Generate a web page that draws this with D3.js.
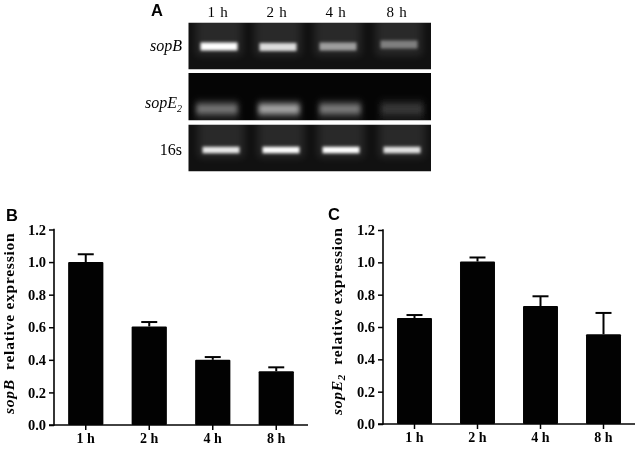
<!DOCTYPE html>
<html><head><meta charset="utf-8">
<script src="https://cdn.jsdelivr.net/npm/d3@7"></script>
<style>html,body{margin:0;padding:0;background:#fff}svg{display:block}</style></head>
<body><svg id="c" width="638" height="449"></svg>
<script>
const categories = ["1 h","2 h","4 h","8 h"];
const yTicks = [0,0.2,0.4,0.6,0.8,1.0,1.2];
const sopBValues = [1.0,0.605,0.40,0.33];
const sopBUpper = [1.048,0.632,0.417,0.354];
const sopE2Values = [0.655,1.005,0.73,0.555];
const sopE2Upper = [0.674,1.03,0.79,0.687];
const gelRows = ["sopB","sopE2","16s"];
const gelSopB = [1.0,0.74,0.50,0.38];
const gelSopE2 = [0.36,0.56,0.38,0.12];
const gel16s = [0.78,0.86,1.0,0.76];

const svg = d3.select("#c");
const root = svg.append("g").attr("opacity",0.995);
const serif = "'Liberation Serif',serif", sans = "'Liberation Sans',sans-serif";
const defs = svg.append("defs");
function blur(id,sd){defs.append("filter").attr("id",id).attr("x","-30%").attr("y","-150%").attr("width","160%").attr("height","400%")
  .append("feGaussianBlur").attr("stdDeviation",sd);}
blur("b1","1.8 1.6"); blur("b2","2.6 3"); blur("b3","4");

// ---- gel panel A
const gelPanels = [
 {key:gelRows[0],top:22.5,bottom:69.5,vals:gelSopB,centers:[219,278,338,399],cy:[46.5,47,46.5,44.5],w:37,h:8,lane:0.10,f:"b1"},
 {key:gelRows[1],top:73,bottom:120.5,vals:gelSopE2,centers:[217,279,340,402],cy:[109,109,109,109],w:41,h:10,lane:0.02,f:"b2"},
 {key:gelRows[2],top:124.5,bottom:171.5,vals:gel16s,centers:[221,281,341,402],cy:[150,150,150,150],w:37,h:6.5,lane:0.10,f:"b1"}
];
const grey = d3.scaleLinear().domain([0,1]).range([25,290]);
gelPanels.forEach((p,i)=>{
  defs.append("clipPath").attr("id","clip"+i).append("rect")
    .attr("x",188.5).attr("y",p.top).attr("width",242.5).attr("height",p.bottom-p.top);
  const g = root.append("g").attr("clip-path",`url(#clip${i})`);
  g.append("rect").attr("x",188).attr("y",p.top).attr("width",244).attr("height",p.bottom-p.top).attr("fill",i==1?"#040404":"#101010");
  g.selectAll("rect.lane").data(p.vals).join("rect").attr("class","lane")
    .attr("x",(d,j)=>p.centers[j]-23).attr("width",46)
    .attr("y",i==1?p.top+26:p.top-6).attr("height",i==1?30:p.bottom-p.top-8)
    .attr("fill","#fff").attr("opacity",i==1?0.07:p.lane).attr("filter","url(#b3)");
  g.selectAll("rect.band").data(p.vals).join("rect").attr("class","band")
    .attr("x",(d,j)=>p.centers[j]-p.w/2).attr("width",p.w)
    .attr("y",(d,j)=>p.cy[j]-p.h/2).attr("height",p.h)
    .attr("fill",d=>{const v=Math.min(255,Math.round(grey(d)));return `rgb(${v},${v},${v})`;})
    .attr("filter",`url(#${p.f})`);
});
root.selectAll("text.lab").data(categories).join("text").attr("class","lab")
  .attr("x",(d,i)=>[218,277,336,397][i]).attr("y",17)
  .attr("text-anchor","middle").attr("font-family",serif).attr("font-size",15).attr("letter-spacing",0.8).attr("fill","#000").text(d=>d);

function rowLabel(y,parts){
  const t = root.append("text").attr("x",182).attr("y",y).attr("text-anchor","end").attr("font-family",serif).attr("font-size",16).attr("fill","#000");
  parts(t);
}
rowLabel(51,t=>t.append("tspan").attr("font-style","italic").text("sopB"));
rowLabel(108,t=>{t.append("tspan").attr("font-style","italic").text("sopE");t.append("tspan").attr("font-size",10).attr("font-style","italic").attr("dy",4).text("2");});
rowLabel(155,t=>t.append("tspan").text("16s"));

function letter(s,x,y){root.append("text").attr("x",x).attr("y",y).attr("font-family",sans).attr("font-weight",700).attr("font-size",16.5).attr("fill","#000").text(s);}
letter("A",151,16); letter("B",6,221); letter("C",328,220);

// ---- bar panels
function barPanel(o){
  const x = d3.scaleBand().domain(categories).range([o.x0,o.x1]).paddingInner(0.445).paddingOuter(0.2225);
  const y = d3.scaleLinear().domain([0,1.2]).range([o.y0,o.y1]);
  const g = root.append("g");
  const cx = d=>x(d)+x.bandwidth()/2;
  const eg = g.append("g");
  eg.selectAll("line.s").data(categories).join("line").attr("class","s").attr("x1",cx).attr("x2",cx)
    .attr("y1",(d,i)=>y(o.vals[i])).attr("y2",(d,i)=>y(o.up[i])).attr("stroke","#000").attr("stroke-width",2);
  eg.selectAll("line.c").data(categories).join("line").attr("class","c").attr("x1",d=>cx(d)-8).attr("x2",d=>cx(d)+8)
    .attr("y1",(d,i)=>y(o.up[i])).attr("y2",(d,i)=>y(o.up[i])).attr("stroke","#000").attr("stroke-width",2);
  g.append("g").selectAll("rect").data(categories).join("rect")
    .attr("x",d=>x(d)).attr("width",x.bandwidth())
    .attr("y",(d,i)=>y(o.vals[i])).attr("height",(d,i)=>y(0)-y(o.vals[i])).attr("rx",1).attr("fill","#000");
  const ax = g.append("g").attr("transform",`translate(${o.x0},0)`)
    .call(d3.axisLeft(y).tickValues(yTicks).tickFormat(d3.format(".1f")).tickSize(5).tickPadding(3));
  ax.select(".domain").attr("stroke-width",1.6).attr("stroke","#000").attr("d",`M0,${o.y0+0.8}V${o.y1-0.8}`);
  ax.selectAll(".tick line").attr("stroke","#000").attr("stroke-width",1.5);
  ax.selectAll("text").attr("font-family",serif).attr("font-weight",700).attr("font-size",14.5).attr("fill","#000");
  const bx = g.append("g").attr("transform",`translate(0,${o.y0})`)
    .call(d3.axisBottom(x).tickSize(5).tickPadding(3));
  bx.select(".domain").attr("stroke-width",1.6).attr("stroke","#000").attr("d",`M${o.x0-5},0H${o.x1}`);
  bx.selectAll(".tick line").attr("stroke","#000").attr("stroke-width",1.5);
  bx.selectAll("text").attr("font-family",serif).attr("font-weight",700).attr("font-size",14).attr("fill","#000");
  const t = g.append("text").attr("transform",`translate(${o.lx},${o.ly}) rotate(-90)`)
    .attr("font-family",serif).attr("font-weight",700).attr("font-size",15.5).attr("letter-spacing",0.75).attr("fill","#000");
  t.append("tspan").attr("font-style","italic").text(o.gene);
  if(o.sub){t.append("tspan").attr("font-style","italic").attr("font-size",11).attr("dy",3).text(o.sub);t.append("tspan").attr("dy",-3).text("\u00A0\u00A0relative expression");}
  else t.append("tspan").text("\u00A0\u00A0relative expression");
}
barPanel({x0:54,x1:308,y0:425,y1:229.5,vals:sopBValues,up:sopBUpper,gene:"sopB",lx:14,ly:414});
barPanel({x0:383,x1:635,y0:424,y1:230,vals:sopE2Values,up:sopE2Upper,gene:"sopE",sub:"2",lx:342,ly:415});
</script></body></html>
